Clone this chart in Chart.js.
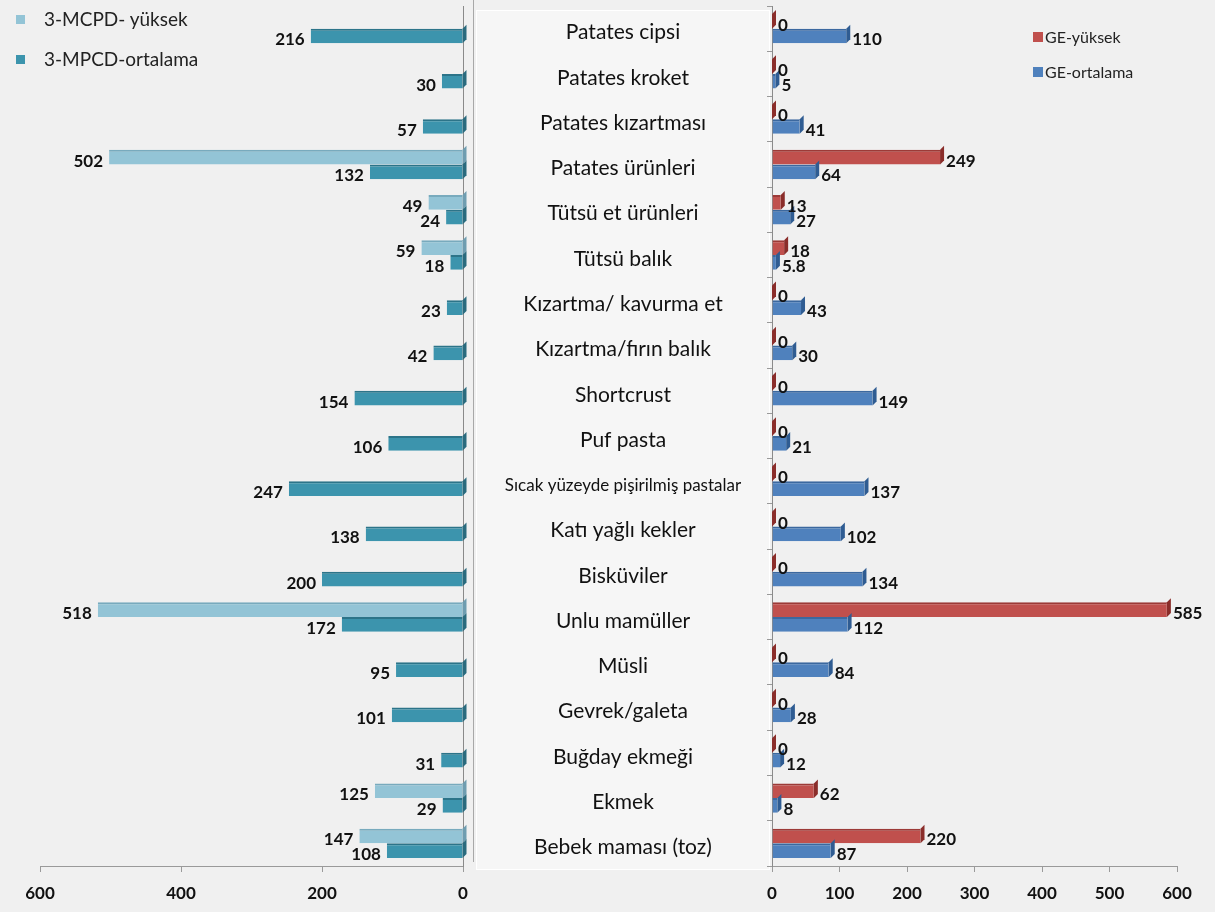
<!DOCTYPE html>
<html>
<head>
<meta charset="utf-8">
<script src="https://cdn.jsdelivr.net/npm/chart.js@4.4.1/dist/chart.umd.min.js"></script>
<style>
    html, body { margin: 0; padding: 0; background: #f0f0f0; }
    #wrap { position: relative; width: 1215px; height: 912px; overflow: hidden; font-family: Lato, sans-serif; }
    .box { position: absolute; left: 476px; top: 10px; width: 292px; height: 858px; background: #f6f6f6; border: 1px solid #fff; }
    .vline { position: absolute; left: 473px; top: 0; width: 1px; height: 862px; background: #a8a8a8; }
    .pane { position: absolute; top: 0; }
    .legend-item { position: absolute; color: #222; white-space: nowrap; }
</style>
</head>
<body>
<div id="wrap">
    <div class="box"></div>
    <div class="vline"></div>
    <div class="pane" style="left:0;"><canvas id="leftChart" width="480" height="912"></canvas></div>
    <div class="pane" style="left:476px;"><canvas id="rightChart" width="739" height="912"></canvas></div>
    <div id="legends"></div>
</div>
<script>
// Kategoriler (yukarıdan aşağıya)
const categories = [
    'Patates cipsi', 'Patates kroket', 'Patates kızartması', 'Patates ürünleri',
    'Tütsü et ürünleri', 'Tütsü balık', 'Kızartma/ kavurma et', 'Kızartma/fırın balık',
    'Shortcrust', 'Puf pasta', 'Sıcak yüzeyde pişirilmiş pastalar', 'Katı yağlı kekler',
    'Bisküviler', 'Unlu mamüller', 'Müsli', 'Gevrek/galeta', 'Buğday ekmeği',
    'Ekmek', 'Bebek maması (toz)'
];

// Sol panel: 3-MCPD
const mcpdHigh = [null, null, null, 502, 49, 59, null, null, null, null, null, null, null, 518, null, null, null, 125, 147];
const mcpdAvg = [216, 30, 57, 132, 24, 18, 23, 42, 154, 106, 247, 138, 200, 172, 95, 101, 31, 29, 108];

// Sağ panel: GE
const geHigh = [0, 0, 0, 249, 13, 18, 0, 0, 0, 0, 0, 0, 0, 585, 0, 0, 0, 62, 220];
const geAvg = [110, 5, 41, 64, 27, 5.8, 43, 30, 149, 21, 137, 102, 134, 112, 84, 28, 12, 8, 87];

const leftTicks = [0, 200, 400, 600];
const rightTicks = [0, 100, 200, 300, 400, 500, 600];

const seriesNames = {
    mcpdHigh: '3-MCPD- yüksek',
    mcpdAvg: '3-MPCD-ortalama',
    geHigh: 'GE-yüksek',
    geAvg: 'GE-ortalama'
};

const palette = {
    mcpdHigh: { fill: '#93c4d6', edge: '#78aabd', cap: '#6f9db0' },
    mcpdAvg: { fill: '#3c94ad', edge: '#2c7489', cap: '#2a6b7e' },
    geHigh: { fill: '#c0504d', edge: '#9c3a37', cap: '#8a2d2a' },
    geAvg: { fill: '#4f81bd', edge: '#3b689f', cap: '#2f5c92' }
};

const tickFont = { family: 'Lato, sans-serif', size: 17, weight: 'bold' };

// Basit 3B görünüm: çubuğun sağ ucuna koyu yan yüz
const bar3dPlugin = {
    id: 'bar3d',
    afterDatasetsDraw(chart) {
        const ctx = chart.ctx;
        const d = 4;
        chart.data.datasets.forEach((ds, i) => {
            const meta = chart.getDatasetMeta(i);
            meta.data.forEach((el, j) => {
                if (ds.data[j] === null || ds.data[j] === undefined) return;
                const p = el.getProps(['x', 'y', 'base', 'height'], true);
                const r = Math.max(p.x, p.base);
                const top = p.y - p.height / 2;
                const bottom = p.y + p.height / 2;
                ctx.save();
                ctx.fillStyle = ds.capColor;
                ctx.beginPath();
                ctx.moveTo(r, top);
                ctx.lineTo(r + d, top - d);
                ctx.lineTo(r + d, bottom - d);
                ctx.lineTo(r, bottom);
                ctx.closePath();
                ctx.fill();
                ctx.restore();
            });
        });
    }
};

// Değer etiketleri
const valueLabelPlugin = {
    id: 'valueLabels',
    afterDatasetsDraw(chart, args, opts) {
        const ctx = chart.ctx;
        ctx.save();
        ctx.font = 'bold 17px Lato, sans-serif';
        ctx.fillStyle = '#111';
        ctx.textBaseline = 'middle';
        chart.data.datasets.forEach((ds, i) => {
            const meta = chart.getDatasetMeta(i);
            meta.data.forEach((el, j) => {
                const v = ds.data[j];
                if (v === null || v === undefined) return;
                const p = el.getProps(['x', 'y', 'base'], true);
                if (opts.side === 'left') {
                    ctx.textAlign = 'right';
                    ctx.fillText(String(v), Math.min(p.x, p.base) - 6, p.y + 4);
                } else {
                    ctx.textAlign = 'left';
                    ctx.fillText(String(v), Math.max(p.x, p.base) + 6, p.y + 4);
                }
            });
        });
        ctx.restore();
    }
};

// Orta sütundaki kategori adları
const categoryLabelPlugin = {
    id: 'categoryLabels',
    afterDraw(chart, args, opts) {
        const ctx = chart.ctx;
        const yScale = chart.scales.y;
        const cx = opts.centerX;
        ctx.save();
        ctx.fillStyle = '#111';
        ctx.textAlign = 'center';
        ctx.textBaseline = 'middle';
        categories.forEach((label, i) => {
            const size = label.length > 25 ? 17 : 21;
            ctx.font = size + 'px Lato, sans-serif';
            ctx.fillText(label, cx, yScale.getPixelForValue(i) + 4);
        });
        ctx.restore();
    }
};

function makeDataset(key, values) {
    return {
        label: seriesNames[key],
        data: values,
        backgroundColor: palette[key].fill,
        borderColor: palette[key].edge,
        borderWidth: { top: 2, left: 0, right: 0, bottom: 0 },
        borderSkipped: false,
        capColor: palette[key].cap,
        categoryPercentage: 0.65,
        barPercentage: 1
    };
}

function xAxis(ticksList, step, reverse) {
    return {
        type: 'linear',
        min: 0,
        max: 600,
        reverse: reverse,
        afterBuildTicks: (scale) => { scale.ticks = ticksList.map(v => ({ value: v })); },
        afterFit: (scale) => { scale.height = 46; },
        ticks: { font: tickFont, color: '#111', padding: 11, stepSize: step },
        grid: { drawOnChartArea: false, drawTicks: true, tickLength: 6, color: '#9a9a9a' },
        border: { display: true, color: '#9a9a9a' }
    };
}

const common = {
    indexAxis: 'y',
    responsive: false,
    animation: false,
    plugins: {
        legend: { display: false },
        tooltip: { enabled: false }
    }
};

new Chart(document.getElementById('leftChart').getContext('2d'), {
    type: 'bar',
    data: {
        labels: categories,
        datasets: [makeDataset('mcpdHigh', mcpdHigh), makeDataset('mcpdAvg', mcpdAvg)]
    },
    options: {
        ...common,
        layout: { padding: { top: 6, left: 40, right: 0, bottom: 0 } },
        scales: {
            x: xAxis(leftTicks, 200, true),
            y: {
                position: 'right',
                afterFit: (scale) => { scale.width = 17; },
                ticks: { display: false },
                grid: { display: false },
                border: { display: true, color: '#8a8a8a' }
            }
        },
        plugins: {
            ...common.plugins,
            valueLabels: { side: 'left' }
        }
    },
    plugins: [bar3dPlugin, valueLabelPlugin]
});

new Chart(document.getElementById('rightChart').getContext('2d'), {
    type: 'bar',
    data: {
        labels: categories,
        datasets: [makeDataset('geHigh', geHigh), makeDataset('geAvg', geAvg)]
    },
    options: {
        ...common,
        layout: { padding: { top: 6, left: 0, right: 38, bottom: 0 } },
        scales: {
            x: xAxis(rightTicks, 100, false),
            y: {
                position: 'left',
                afterFit: (scale) => { scale.width = 296; },
                ticks: { display: false },
                grid: { drawOnChartArea: false, drawTicks: true, tickLength: 5, color: '#9a9a9a' },
                border: { display: true, color: '#8a8a8a' }
            }
        },
        plugins: {
            ...common.plugins,
            valueLabels: { side: 'right' },
            categoryLabels: { centerX: 147 }
        }
    },
    plugins: [bar3dPlugin, valueLabelPlugin, categoryLabelPlugin]
});

// Göstergeler
const legendSpecs = [
    { key: 'mcpdHigh', x: 16, y: 19, box: 9, size: 19, textX: 44 },
    { key: 'mcpdAvg', x: 16, y: 59, box: 9, size: 19, textX: 44 },
    { key: 'geHigh', x: 1033, y: 37, box: 10, size: 16, textX: 1045 },
    { key: 'geAvg', x: 1033, y: 72, box: 10, size: 16, textX: 1045 }
];
const legendRoot = document.getElementById('legends');
legendSpecs.forEach(s => {
    const sq = document.createElement('div');
    sq.className = 'legend-item';
    sq.style.left = s.x + 'px';
    sq.style.top = (s.y - s.box / 2) + 'px';
    sq.style.width = s.box + 'px';
    sq.style.height = s.box + 'px';
    sq.style.background = palette[s.key].fill;
    legendRoot.appendChild(sq);

    const txt = document.createElement('div');
    txt.className = 'legend-item';
    txt.textContent = seriesNames[s.key];
    txt.style.left = s.textX + 'px';
    txt.style.fontSize = s.size + 'px';
    txt.style.lineHeight = '20px';
    txt.style.top = (s.y - 10) + 'px';
    legendRoot.appendChild(txt);
});
</script>
</body>
</html>
